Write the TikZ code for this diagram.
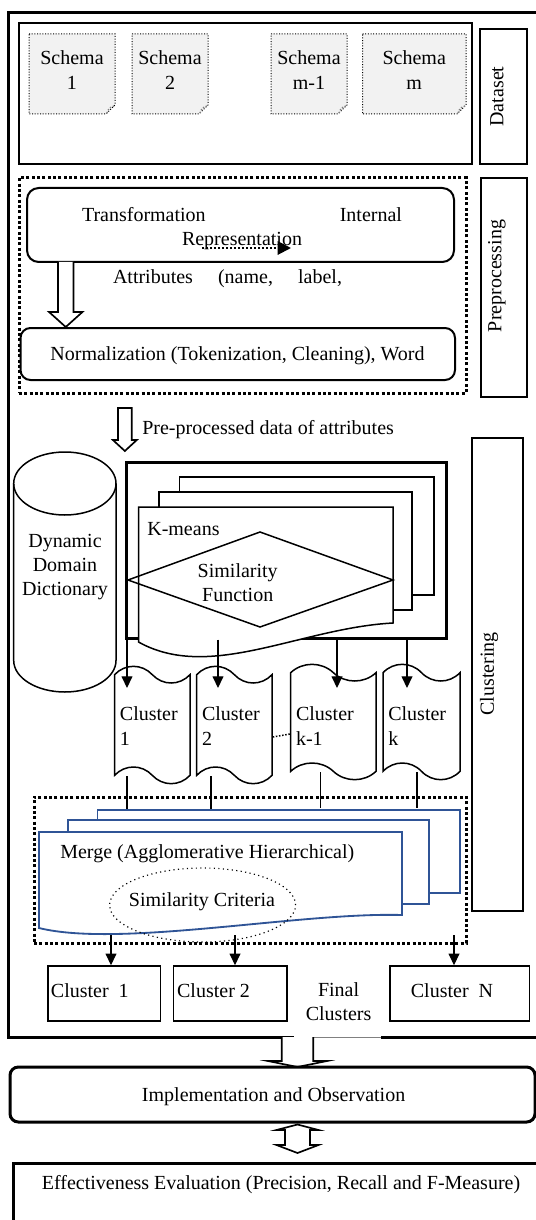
\documentclass[tikz,border=0pt]{standalone}
\usepackage{fontspec}
\setmainfont{Liberation Serif}
\usetikzlibrary{fit,arrows.meta,shapes.symbols,shapes.geometric}

\definecolor{mergeblue}{RGB}{47,84,150}
\definecolor{schemagray}{RGB}{242,242,242}

\tikzset{
  box/.style={draw, line width=1.2pt, inner sep=0pt},
  thinbox/.style={draw, line width=0.9pt, inner sep=0pt},
  thickbox/.style={draw, line width=1.8pt, inner sep=0pt},
  roundbox/.style={draw, line width=1.2pt, rounded corners=7pt, inner sep=0pt},
  dotframe/.style={draw, line width=1.8pt, dash pattern=on 1.8pt off 1.4pt, inner sep=0pt},
  schema/.style={draw, densely dotted, line width=0.6pt, fill=schemagray},
  tapebox/.style={draw, tape, line width=0.9pt, inner sep=0pt, tape bend height=10pt,
    tape bend top=out and in, tape bend bottom=out and in},
  kpage/.style={draw, fill=white, line width=0.9pt},
  bluepage/.style={draw=mergeblue, fill=white, line width=1.1pt},
  arr/.style={-{Triangle[length=7pt,width=6.5pt]}, line width=0.7pt},
  dotarr/.style={-{Triangle[length=8pt,width=8pt]}, line width=1.2pt, dash pattern=on 1.2pt off 1.2pt},
  hollow/.style={draw, fill=white, line width=1pt},
  lbl/.style={rotate=90, inner sep=0pt},
  txt/.style={inner sep=0pt}
}

% x, top, neck, tip, shaft half width, head half width
\newcommand{\hollowdown}[6]{%
  \draw[hollow] (#1-#5,#2) -- (#1-#5,#3) -- (#1-#6,#3) -- (#1,#4) -- (#1+#6,#3) -- (#1+#5,#3) -- (#1+#5,#2);}

\begin{document}
\begin{tikzpicture}[x=0.6pt, y=-0.6pt, font=\fontsize{12}{14.5}\selectfont]
\useasboundingbox (0,0) rectangle (536,1220);

% outer frame
\draw[line width=1.8pt] (294,1037) -- (8.5,1037) -- (8.5,13) -- (540,13) -- (540,1037) -- (381,1037);
\draw[gray, line width=0.6pt] (294,1037) -- (381,1037);

% dataset
\node[box, fit={(18.8,23) (472,164)}] (dataset) {};
\node[box, fit={(480,29) (527,164)}] (datasetlbl) {};
\node[lbl] (datasettext) at (497,96.5) {Dataset};
\foreach \xa/\xb/\lab/\nm in {29/115/1/s1, 132/208/2/s2, 271/347/m-1/s3, 362.5/466/m/s4}{
  \draw[schema] (\xa,34) -- (\xb,34) -- (\xb,105) -- (\xb-9,114) -- (\xa,114) -- cycle;
  \draw[densely dotted, gray, line width=0.8pt] (\xb-8,113) .. controls (\xb-6,108) .. (\xb-1,106);
  \node[align=center] (\nm) at ({(\xa+\xb)/2},70) {Schema\\\lab};
}

% preprocessing
\node[dotframe, fit={(19,178) (466,393)}] (prep) {};
\node[box, fit={(481,178) (527,397)}] (preplbl) {};
\node[lbl] (preptext) at (497,276) {Preprocessing};
\node[roundbox, fit={(27,188) (454,262)}] (trans) {};
\node[align=center] (transtext) at (242,228.5) {\makebox[192pt]{Transformation\hfill Internal}\\Representation};
\coordinate (rep1) at (202,248);
\coordinate (rep2) at (291,248);
\draw[dotarr] (rep1) -- (rep2);
\hollowdown{65.75}{262}{312}{327}{7.75}{16.7}
\node (attr) at (227.5,279) {\makebox[137.4pt]{Attributes\hfill(name,\hfill label,}};
\node[roundbox, rounded corners=6pt, fit={(20.5,328) (455,380)}] (norm) {};
\node (normtext) at (237.5,356) {Normalization (Tokenization, Cleaning), Word};

\draw[hollow] (118,408) -- (118,440) -- (112.9,440) -- (124.85,451) -- (136.8,440) -- (131.7,440) -- (131.7,408) -- cycle;
\node[txt, anchor=west] (pptext) at (142,430) {Pre-processed data of attributes};

% clustering
\node[box, fit={(472,438) (522.7,910.7)}] (clustlbl) {};
\node[lbl] (clusttext) at (489,674) {Clustering};

\draw[line width=0.9pt] (64.85,483.5) ellipse [x radius=51.15, y radius=31.5];
\draw[line width=0.9pt] (13.7,483.5) -- (13.7,660.5) arc[start angle=180, end angle=0, x radius=51.15, y radius=31.5] -- (116,483.5);
\node[align=center] (dict) at (65,567) {Dynamic\\Domain\\Dictionary};

\node[thickbox, fit={(126.5,462) (446,638)}] (kmeans) {};
\draw[kpage] (179.6,477) rectangle (434,595);
\draw[kpage] (159,492) rectangle (412,610);
\draw[kpage] (138.5,507) -- (393,507) -- (393,623) .. controls (300,628) and (210,682) .. (138.5,642) -- cycle;
\node[txt, anchor=west] (kmtext) at (147,529) {K-means};
\draw[line width=0.9pt] (128,580) -- (260,532) -- (393,580) -- (260,627) -- cycle;
\node[align=center] (simf) at (237.7,583) {Similarity\\Function};

\foreach \xa/\xb/\ya/\yb/\lab/\nm in {114.6/190/672/778/1/c1, 196.7/272/672/778/2/c2, 290.7/376/670/774/k-1/c3, 383/460/670/774/k/c4}{
  \node[tapebox, fit={(\xa,\ya+11) (\xb,\yb-11)}] (\nm) {};
  \node[txt, anchor=west, align=left] (\nm text) at (\xa+5,726) {Cluster\\\lab};
}
\foreach \x/\nm in {127/c1, 218/c2, 337/c3, 407/c4}{
  \coordinate (\nm top) at (\x,688);
  \draw[arr] (kmeans.south -| \nm top) -- (\nm top);
}
\draw[densely dotted, line width=0.9pt] ([yshift=-7.2pt]c2.east) -- ([yshift=-7.2pt]c3.west);

% merge
\node[dotframe, fit={(34,797) (466,943)}] (mergebox) {};
\foreach \x/\y/\nm in {127/820/c1, 211/820/c2, 320.8/808/c3, 417/808/c4}{
  \coordinate (\nm low) at (\x,\y);
  \draw[line width=0.7pt] (\nm low |- \nm.south) -- (\nm low);
}
\draw[bluepage] (97.5,810) rectangle (460,893);
\draw[bluepage] (68.4,820) rectangle (429,904);
\draw[bluepage] (39,832) -- (402,832) -- (402,915) .. controls (300,912) and (120,948) .. (39,928) -- cycle;
\node[txt, anchor=west] (mergetext) at (60,854) {Merge (Agglomerative Hierarchical)};
\node[ellipse, draw, dotted, line width=0.7pt, minimum width=111.6pt, minimum height=44.4pt, inner sep=0pt] (simcrit) at (202.6,905) {};
\node (simtext) at (202,902) {Similarity Criteria};

% final clusters
\node[thinbox, fit={(47.9,966) (160.7,1021)}] (fc1) {};
\node[thinbox, fit={(173.7,966) (287,1021)}] (fc2) {};
\node[thinbox, fit={(390,966) (529.4,1021)}] (fcN) {};
\node[txt, anchor=west] (fc1text) at (50.6,991) {Cluster~~1};
\node[txt, anchor=west] (fc2text) at (176.8,991) {Cluster 2};
\node (fcNtext) at (452,991) {Cluster~~N};
\node[align=center] (final) at (338.6,1002) {Final\\Clusters};
\foreach \x/\nm in {111/fc1, 235/fc2, 454/fcN}{
  \coordinate (\nm src) at (\x,935);
  \draw[arr] (\nm src) -- (\nm src |- \nm.north);
}

% implementation and evaluation
\hollowdown{297.5}{1037}{1061}{1067}{15.8}{29.5}
\node[roundbox, line width=1.8pt, rounded corners=5pt, fit={(10,1067) (535,1122)}] (impl) {};
\node (impltext) at (273.6,1097) {Implementation and Observation};
\draw[hollow] (297.5,1124.5) -- (318.5,1130) -- (310,1130) -- (310,1145) -- (318.5,1145) -- (297.5,1153) -- (276.5,1145) -- (285,1145) -- (285,1130) -- (276.5,1130) -- cycle;
\node[thickbox, fit={(13.7,1163) (545,1235)}] (eval) {};
\node (evaltext) at (281,1185) {Effectiveness Evaluation (Precision, Recall and F-Measure)};
\end{tikzpicture}
\end{document}
